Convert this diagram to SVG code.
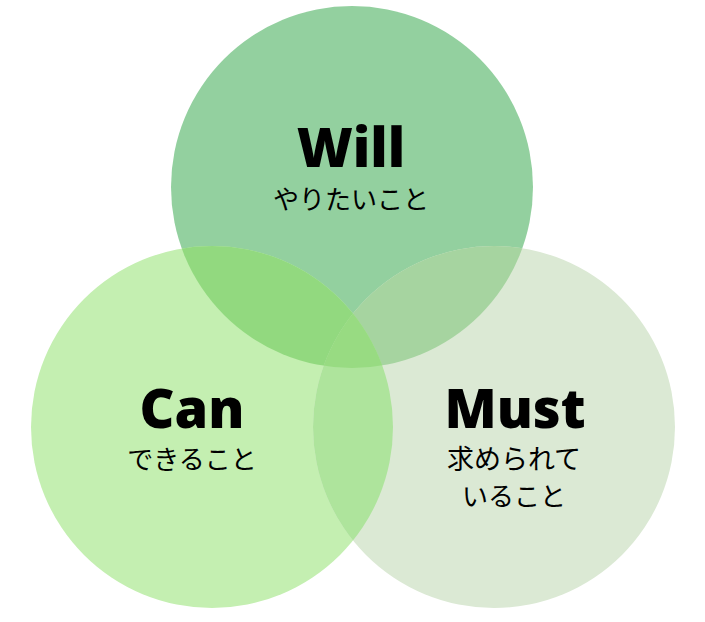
<svg xmlns="http://www.w3.org/2000/svg" width="705" height="622" viewBox="0 0 705 622">
  <style>
    .title { font-family: "Open Sans", "Noto Sans", sans-serif; font-weight: 800; font-size: 54px; fill: #000; text-anchor: middle; }
    .sub { font-family: "Noto Sans CJK JP", "Noto Sans", sans-serif; font-weight: 400; font-size: 26px; fill: #000; text-anchor: middle; }
  </style>
  <defs>
    <clipPath id="clipWill"><circle cx="352" cy="187" r="181"/></clipPath>
    <clipPath id="clipCan"><circle cx="212" cy="427" r="181"/></clipPath>
    <clipPath id="clipMust"><circle cx="494" cy="427" r="181"/></clipPath>
  </defs>
  <rect width="705" height="622" fill="#ffffff"/>
  <g id="will">
    <circle cx="352" cy="187" r="181" fill="#93d09f"/>
  </g>
  <g id="can">
    <circle cx="212" cy="427" r="181" fill="#c4efb1"/>
  </g>
  <g id="must">
    <circle cx="494" cy="427" r="181" fill="#dbe9d4"/>
  </g>
  <g id="overlaps">
    <circle cx="212" cy="427" r="181" fill="#92d97f" clip-path="url(#clipWill)"/>
    <circle cx="494" cy="427" r="181" fill="#a6d4a0" clip-path="url(#clipWill)"/>
    <circle cx="494" cy="427" r="181" fill="#aee49c" clip-path="url(#clipCan)"/>
    <g clip-path="url(#clipWill)">
      <circle cx="494" cy="427" r="181" fill="#98db82" clip-path="url(#clipCan)"/>
    </g>
  </g>
  <g id="will-label">
    <text class="title" x="351" y="167">Will</text>
    <text class="sub" x="351" y="209">やりたいこと</text>
  </g>
  <g id="can-label">
    <text class="title" x="192" y="428">Can</text>
    <text class="sub" x="192" y="469">できること</text>
  </g>
  <g id="must-label">
    <text class="title" x="515" y="428">Must</text>
    <text class="sub" x="514" y="469" style="font-size:27px">求められて</text>
    <text class="sub" x="514" y="506">いること</text>
  </g>
</svg>
